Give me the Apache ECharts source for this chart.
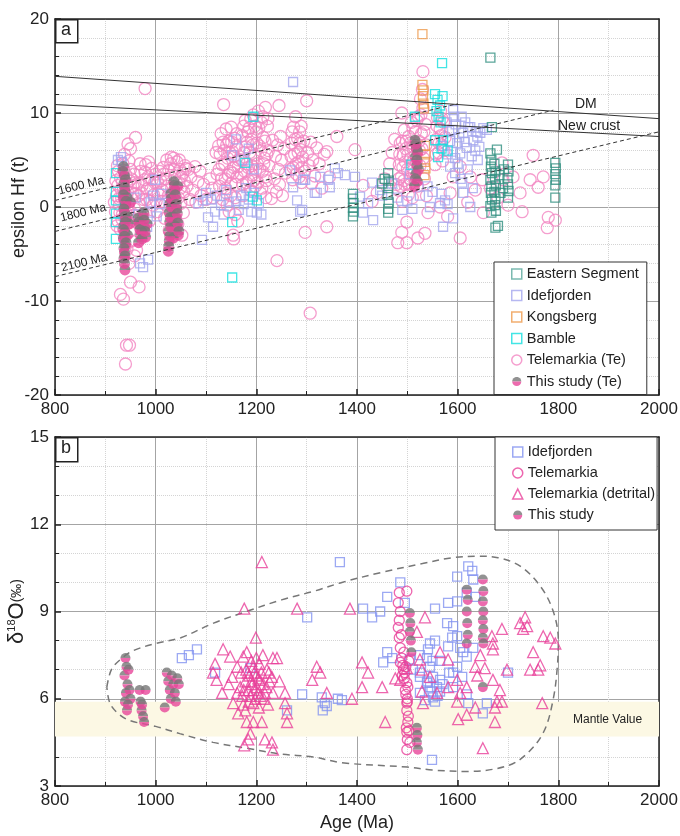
<!DOCTYPE html>
<html>
<head>
<meta charset="utf-8">
<script src="https://cdn.jsdelivr.net/npm/echarts@6/dist/echarts.min.js"></script>
<style>
  html, body { margin: 0; background: #fff; }
  #app { width: 680px; height: 836px; }
</style>
</head>
<body>
<div id="app"></div>
<script>
// ---------- panel a : epsilon Hf (t) vs age ----------
const hfTelemarkia = [
  [918,0.5],[920,-0.5],[922,1.2],[925,-1.5],[925,2.3],[928,0.2],[930,3.1],[930,-2.4],[932,1.0],[934,-0.8],
  [935,4.6],[936,2.0],[938,5.6],[938,-3.2],[940,0.6],[941,3.4],[942,-1.8],[944,1.6],[945,6.7],[946,-0.4],
  [948,2.8],[948,-2.6],[950,6.2],[950,4.0],[952,0.9],[953,-1.2],[955,2.2],[957,3.5],[958,-0.2],[960,7.4],[960,1.4],
  [921,2.8],[923,-2.0],[926,3.8],[927,0.9],[929,-0.6],[931,1.9],[933,-1.3],[934,2.7],[936,-2.3],[937,3.9],
  [939,1.2],[941,-0.6],[943,2.4],[945,0.2],[947,4.9],[949,-1.0],[951,3.0],[954,1.5],[956,-0.9],[959,2.6],
  [924,4.4],[943,-4.5],[947,-6.0],[952,-3.6],
  [930,-9.3],[936,-9.8],[950,-8.0],[967,-8.5],[942,-14.7],[948,-14.7],[940,-16.7],[958,-5.2],[962,-4.6],[979,12.6],
  [965,2.5],[968,0.3],[970,3.8],[972,1.5],[975,-0.8],[978,2.9],[980,4.5],[982,0.8],[985,3.2],[987,-1.5],
  [990,1.9],[992,4.1],[995,0.2],[998,2.6],[1000,3.5],[1003,-0.5],[1005,1.4],
  [966,1.2],[969,4.6],[973,2.3],[976,0.8],[979,3.7],[983,1.9],[986,4.8],[989,0.6],[993,2.9],[996,1.3],
  [1001,0.6],[1004,2.6],[1008,3.8],[1013,1.8],[1016,3.5],[1019,0.3],[1023,2.2],[1026,3.9],[1029,0.2],[1031,5.3],
  [1033,1.5],[1037,4.0],[1039,-1.5],[1041,2.6],[1045,1.0],[1047,5.0],[1049,2.0],[1051,3.2],[1055,-0.6],[1057,2.8],[1060,4.1],
  [1010,2.8],[1012,0.6],[1015,4.2],[1018,-1.2],[1020,3.0],[1022,5.0],[1025,1.2],[1027,-2.5],[1030,4.6],[1032,2.1],
  [1035,-0.6],[1036,5.2],[1038,3.3],[1040,0.9],[1042,4.8],[1044,-1.8],[1046,2.6],[1048,4.0],[1050,0.4],[1052,-3.0],
  [1054,3.6],[1056,1.6],[1058,4.4],[1062,2.2],[1065,4.0],[1068,0.8],[1070,3.2],[1074,1.8],[1078,4.3],[1080,0.5],
  [1084,2.7],[1088,3.8],[1090,1.2],[1095,2.4],[1100,0.8],[1108,3.0],[1112,2.0],[1115,1.0],[1120,5.8],[1122,3.5],
  [1125,6.5],[1127,2.2],[1130,7.8],[1132,4.5],[1133,0.8],[1135,10.9],[1136,6.0],[1138,3.0],[1140,8.3],[1140,1.5],
  [1143,5.2],[1145,7.0],[1146,-0.5],[1148,3.8],[1150,8.5],[1150,2.5],[1152,5.9],[1155,-3.4],[1155,4.2],[1157,7.3],
  [1158,1.0],[1160,6.4],[1162,3.2],[1163,-1.5],[1165,5.0],[1154,-3.0],
  [1126,4.0],[1128,5.6],[1131,3.0],[1134,6.9],[1137,4.6],[1139,2.0],[1141,6.6],[1144,3.4],[1147,5.8],[1149,1.2],
  [1151,6.9],[1153,3.6],[1156,5.4],[1159,2.4],[1161,7.8],[1164,4.3],[1142,0.2],[1158,-0.8],
  [1170,3.5],[1172,7.6],[1174,1.2],[1176,5.8],[1178,9.2],[1180,2.6],[1182,6.9],[1184,4.2],[1186,8.4],[1188,1.8],
  [1190,7.2],[1192,3.4],[1194,9.8],[1196,5.5],[1198,2.2],[1200,8.0],[1202,4.6],[1204,10.2],[1206,6.5],[1208,1.5],
  [1210,9.0],[1212,3.8],[1214,7.4],[1216,5.2],[1218,10.6],[1220,2.8],[1222,8.6],[1224,6.0],
  [1171,5.0],[1173,2.4],[1175,8.6],[1177,3.8],[1179,6.4],[1181,4.6],[1183,8.0],[1185,2.8],[1187,5.8],[1189,9.4],
  [1191,4.4],[1193,6.6],[1195,2.8],[1197,8.6],[1199,4.0],[1201,6.8],[1203,2.6],[1205,8.4],[1207,4.0],[1209,6.0],
  [1211,2.0],[1213,9.6],[1215,4.6],[1217,7.0],[1219,3.2],[1221,5.6],[1223,9.4],[1225,4.4],[1219,1.0],
  [1230,0.9],[1232,7.1],[1236,3.0],[1238,5.4],[1240,1.6],[1242,6.6],[1244,4.0],[1245,10.8],[1246,2.4],[1248,7.5],
  [1250,5.0],[1252,1.2],[1255,6.2],[1258,3.6],[1241,-5.7],
  [1268,4.0],[1270,6.8],[1272,2.9],[1274,8.5],[1276,5.6],[1278,9.6],[1280,3.5],[1282,7.3],[1284,4.8],[1286,8.0],
  [1288,6.1],[1290,2.6],[1292,5.3],[1294,7.0],[1296,3.8],[1300,11.3],[1297,-2.7],
  [1269,5.4],[1271,8.0],[1273,4.2],[1277,7.2],[1279,4.6],[1283,5.8],[1285,3.2],[1287,6.8],[1289,8.6],[1291,4.2],
  [1302,5.8],[1305,4.4],[1308,6.9],[1310,2.5],[1312,5.0],[1316,3.3],[1320,6.3],[1325,4.6],[1330,2.0],[1335,5.6],
  [1340,5.9],[1340,-2.1],[1307,-11.3],[1345,3.2],
  [1360,7.5],[1396,6.1],[1412,2.3],[1430,0.6],[1440,1.5],[1455,3.0],[1465,4.6],[1470,5.8],[1478,2.4],[1475,7.2],
  [1482,1.8],[1484,4.5],[1486,6.8],[1488,3.2],[1489,10.0],[1490,0.6],[1492,5.5],[1494,8.2],[1495,2.4],[1497,6.2],
  [1499,-1.6],[1499,-3.8],[1500,4.0],[1502,1.3],[1503,7.5],[1505,3.0],[1507,5.2],[1508,9.0],[1510,1.0],[1512,6.4],
  [1514,3.6],[1516,8.0],[1518,4.8],[1520,2.2],[1521,-3.3],[1522,9.6],[1524,6.0],[1526,11.5],[1528,7.8],[1530,12.5],
  [1531,14.4],[1532,5.2],[1534,3.0],[1535,-2.8],[1536,8.8],[1538,1.2],[1541,-0.6],[1489,-2.7],[1481,-3.8],
  [1483,3.0],[1485,5.6],[1487,2.2],[1490,7.0],[1491,4.2],[1493,2.8],[1496,4.8],[1498,7.0],[1501,5.6],[1504,2.4],
  [1506,6.8],[1509,4.2],[1511,8.4],[1513,5.0],[1515,2.8],[1517,6.8],[1519,9.2],[1523,7.0],[1525,4.4],[1527,9.8],
  [1529,6.2],[1531,10.5],[1533,8.0],[1537,6.6],
  [1555,4.5],[1558,7.2],[1560,9.5],[1562,5.8],[1565,8.3],[1566,10.2],[1568,6.6],[1570,4.9],[1572,9.0],[1575,7.4],
  [1557,5.6],[1559,8.6],[1563,6.8],[1567,7.6],[1569,9.4],[1573,6.0],
  [1585,1.5],[1591,3.2],[1605,4.3],[1605,-3.3],[1625,3.2],[1635,1.8],[1649,2.9],[1651,-0.6],[1688,4.7],[1690,2.9],
  [1710,3.2],[1724,1.5],[1728,-0.5],[1744,2.9],[1750,5.5],[1760,2.1],[1770,3.2],[1780,-1.1],[1778,-2.2],[1794,-1.4],
  [1620,0.5],[1665,2.0],[1680,1.0],[1700,0.2],[1565,0.0],[1580,-1.0]
];
const hfIdefjorden = [
  [931,5.3],[925,5.0],[933,4.8],[999,2.9],[995,1.2],[990,0.5],[989,-0.6],[983,-2.1],[975,-6.4],[985,-5.6],
  [969,-6.0],[1002,-1.0],[1008,0.3],[1012,1.4],[960,1.0],[965,-0.8],
  [1094,0.7],[1104,-1.1],[1114,-2.1],[1092,-3.5],[1085,0.4],[1100,1.5],[1110,0.8],[1118,-0.5],[1122,1.2],[1130,0.2],
  [1135,-0.8],[1140,1.8],[1145,0.5],[1160,0.6],[1165,-0.3],[1170,1.2],[1175,0.3],[1180,2.0],[1185,0.8],[1190,-0.5],
  [1195,1.5],[1201,-0.6],[1205,0.4],[1210,-0.8],[1152,5.5],[1160,7.2],[1175,5.0],[1185,6.2],[1195,4.0],
  [1267,3.9],[1273,2.1],[1281,0.7],[1291,-0.3],[1297,2.9],[1316,1.5],[1320,1.5],[1327,3.2],[1343,2.9],[1293,2.9],
  [1346,2.1],[1356,4.1],[1362,3.6],[1376,3.4],[1396,3.2],[1406,1.1],[1422,0.4],[1412,-0.6],[1432,-1.4],[1430,2.6],
  [1446,1.8],[1450,1.2],[1287,-0.5],[1273,13.3],
  [1470,2.5],[1480,1.0],[1490,-0.3],[1500,0.6],[1505,3.5],[1510,-0.2],[1525,1.2],[1540,2.2],[1545,0.0],[1550,1.6],
  [1591,10.3],[1593,9.6],[1589,8.2],[1611,7.9],[1625,8.5],[1631,7.1],[1645,7.9],[1651,8.4],[1599,6.8],[1605,5.7],
  [1595,5.2],[1585,4.3],[1595,3.6],[1609,2.6],[1611,1.5],[1575,0.7],[1580,0.3],[1565,0.4],[1568,1.4],[1591,-1.2],
  [1571,-2.1],[1658,8.2],[1618,6.3],[1635,6.0],[1621,8.5],[1639,7.5],[1615,9.0],[1600,4.6],[1620,4.0],[1640,5.0],
  [1580,5.6],[1585,7.0],[1578,9.0],[1570,6.5],[1630,2.0],[1625,0.0],
  [1596,8.8],[1603,7.4],[1608,9.6],[1614,6.9],[1628,5.4],[1636,8.0],[1643,6.4],[1590,5.9],[1583,8.1],[1606,3.0]
];
const hfEastern = [
  [1392,1.4],[1392,0.9],[1393,0.4],[1392,-0.1],[1393,-0.5],[1392,-1.0],
  [1462,3.6],[1463,2.8],[1462,2.0],[1461,1.3],[1463,0.5],[1462,-0.2],[1462,-0.6],[1455,3.0],[1450,2.5],
  [1665,15.9],[1668,8.5],[1678,6.1],[1665,5.7],[1667,5.0],[1666,4.3],[1668,3.6],[1665,2.9],[1667,2.2],[1666,1.5],
  [1668,0.8],[1665,0.1],[1667,-0.6],[1673,4.6],[1675,3.8],[1674,3.0],[1676,2.3],[1673,1.6],[1675,0.9],[1674,0.2],
  [1676,-0.4],[1675,-2.2],[1680,-2.0],[1683,3.4],[1685,1.5],[1700,4.5],[1701,3.8],[1699,3.1],[1700,2.4],[1701,1.7],
  [1700,1.0],[1692,4.0],[1690,2.0],
  [1794,4.7],[1795,4.1],[1794,3.5],[1795,2.9],[1794,2.3],[1794,1.0]
];
const hfKongsberg = [
  [1530,18.4],[1530,13.0],[1532,12.4],[1531,11.8],[1532,11.0],[1533,10.5],[1535,6.5],[1536,5.6],[1535,4.8],[1536,4.1],[1534,3.4]
];
const hfBamble = [
  [921,3.6],[921,1.6],[921,0.7],[921,-0.7],[921,-1.6],[921,-3.4],[1152,-7.5],[1152,-1.6],[1194,9.6],[1201,0.7],
  [1178,4.7],[1193,1.1],[1515,9.6],[1569,15.3],[1555,12.0],[1560,11.4],[1565,10.8],[1558,10.2],[1562,9.6],[1570,11.8],
  [1566,9.0],[1571,7.1],[1555,7.1],[1561,5.3],[1568,6.2],[1508,4.5],[1580,6.0]
];
const hfThisStudy = [
  [936,4.3],[938,3.3],[937,2.5],[939,1.7],[936,0.9],[940,0.2],[938,-0.6],[941,-1.3],[937,-2.0],[939,-2.7],
  [936,-3.4],[940,-4.1],[938,-4.8],[937,-5.5],[939,-6.7],[944,-1.0],[943,1.0],[944,-3.0],[948,-1.8],[950,0.5],
  [935,3.8],[940,2.9],[938,2.1],[936,1.3],[941,0.6],[937,-0.2],[939,-1.0],[940,-1.6],[936,-2.4],[938,-3.1],
  [941,-3.8],[937,-4.4],[939,-5.2],[938,-6.0],
  [965,-1.2],[968,-2.0],[970,-3.0],[966,-3.8],[975,-1.0],[978,-2.2],[980,-3.2],[976,-0.6],[983,-1.8],[972,-2.6],
  [967,-1.6],[969,-2.4],[973,-3.4],[977,-1.4],[979,-2.6],
  [1025,-4.7],[1027,-3.6],[1026,-2.6],[1028,-1.6],[1027,-0.6],[1029,0.4],[1030,1.4],[1036,2.7],[1038,1.8],[1040,0.8],
  [1042,-0.2],[1041,-1.2],[1043,-2.2],[1045,-3.0],[1035,-3.3],[1034,-1.0],[1044,2.2],[1032,0.0],[1038,-2.0],
  [1026,-4.2],[1028,-3.1],[1030,-2.1],[1029,-1.1],[1031,0.9],[1037,2.3],[1039,1.3],[1041,0.3],[1043,-0.7],[1044,-1.7],[1046,-2.6],
  [1515,7.1],[1518,6.2],[1516,5.3],[1519,4.4],[1517,3.5],[1520,2.7],[1514,2.2],[1521,5.8],[1522,4.0],
  [1517,6.7],[1519,5.0],[1516,3.0]
];
// reference lines (age, epsilon Hf)
const dmLine = [[800,13.9],[2000,9.4]];
const newCrustLine = [[800,10.9],[2000,7.5]];
const evo1600 = [[800,0.7],[1600,11.0]];
const evo1800 = [[800,-2.6],[1790,10.3]];
const evo2100 = [[800,-7.4],[2000,8.0]];

// ---------- panel b : d18O vs age ----------
const oIdefjorden = [
  [1052,7.4],[1066,7.5],[1082,7.7],[1118,6.9],[1188,7.05],[1301,8.8],[1291,6.15],[1261,5.6],[1366,10.7],
  [1330,6.05],[1336,5.85],[1332,5.6],[1340,5.75],[1362,6.0],[1370,5.95],
  [1412,9.1],[1430,8.8],[1446,9.0],[1460,9.5],[1486,10.0],[1495,9.3],[1555,9.1],[1581,9.3],[1599,9.35],[1599,10.2],
  [1621,10.55],[1629,10.4],[1631,10.1],[1618,9.65],[1635,9.5],[1579,8.6],[1591,8.5],[1589,8.1],[1599,8.15],
  [1545,7.9],[1555,8.0],[1541,7.7],[1460,7.6],[1452,7.25],[1505,7.35],[1525,7.5],[1539,7.4],[1550,7.3],[1565,7.3],
  [1581,7.8],[1605,7.75],[1611,7.6],[1631,7.75],[1618,7.45],[1591,6.9],[1599,7.1],[1583,6.9],[1545,7.1],[1551,6.75],
  [1525,6.75],[1539,6.55],[1545,6.4],[1559,6.4],[1565,6.65],[1551,6.05],[1525,6.2],[1535,5.95],[1555,5.9],[1565,6.25],
  [1548,6.25],[1525,6.9],[1511,7.0],[1470,7.4],[1591,6.4],[1618,6.15],[1621,5.85],[1658,5.85],[1650,5.5],[1700,6.9],
  [1549,3.9],[1609,6.75],[1560,6.1],[1570,6.5],[1540,6.6]
];
const oTelemarkia = [
  [1499,9.7],[1484,9.65],[1482,9.3],[1486,9.0],[1484,8.7],[1482,8.45],[1484,8.1],[1486,7.75],[1489,7.4],[1491,7.15],
  [1495,6.9],[1499,6.55],[1501,6.4],[1497,6.15],[1499,5.85],[1499,5.6],[1501,5.2],[1499,4.85],[1499,4.25],[1486,7.25],
  [1492,7.0],[1494,6.7],[1490,6.8],[1496,6.3],[1500,6.0],[1502,5.4],[1498,5.0],[1500,4.6],[1493,7.6],[1488,8.2],
  [1503,7.3],[1497,7.1],[1500,5.9],[1503,4.9],[1505,4.5]
];
const oTelemarkiaDetrital = [
  [1211,10.7],[1176,9.1],[1281,9.1],[1199,8.1],[1134,7.7],[1148,7.45],[1174,7.45],[1181,7.6],[1213,7.5],[1233,7.4],
  [1241,7.4],[1320,7.1],[1311,6.65],[1118,7.2],[1121,6.65],[1114,6.9],[1162,7.1],[1194,7.1],[1221,7.0],[1152,6.75],
  [1170,6.9],[1207,6.65],[1231,6.75],[1132,6.2],[1162,6.2],[1184,6.3],[1201,6.4],[1217,6.2],[1233,6.2],[1257,6.2],
  [1154,5.85],[1174,5.8],[1194,5.85],[1223,5.8],[1257,5.85],[1261,5.5],[1164,5.5],[1181,5.2],[1194,5.2],[1211,5.2],
  [1261,5.2],[1188,4.8],[1184,4.6],[1176,4.4],[1217,4.6],[1231,4.5],[1233,4.25],
  [1178,6.6],[1186,6.8],[1192,6.5],[1196,6.9],[1204,6.7],[1208,6.1],[1214,6.5],[1188,6.1],[1198,6.0],[1206,7.2],
  [1180,7.0],[1168,6.4],[1226,6.6],[1172,6.1],[1246,6.6],[1145,6.5],
  [1175,6.3],[1183,6.9],[1190,6.6],[1195,6.3],[1200,6.8],[1203,6.2],[1210,6.9],[1215,6.0],[1220,6.4],[1185,5.9],
  [1205,5.7],[1225,6.9],[1190,7.3],[1200,7.4],[1178,5.6],
  [1386,9.1],[1327,6.9],[1410,7.25],[1422,6.9],[1410,6.4],[1450,6.4],[1390,6.0],[1340,6.2],[1456,5.2],[1535,8.8],
  [1519,8.3],[1565,7.6],[1581,7.35],[1525,7.35],[1529,7.0],[1499,7.05],[1476,6.7],[1486,6.65],[1545,6.75],[1529,6.25],
  [1531,5.85],[1559,6.2],[1581,6.4],[1599,5.9],[1601,5.3],[1599,6.65],[1618,6.4],[1635,7.1],[1639,6.8],[1645,7.5],
  [1654,7.05],[1670,7.7],[1670,7.9],[1688,8.4],[1668,8.15],[1670,6.65],[1684,6.3],[1678,5.9],[1688,5.9],[1674,5.7],
  [1635,5.7],[1674,5.2],[1650,4.3],[1618,5.45],[1605,6.2],[1724,8.6],[1734,8.8],[1738,8.5],[1730,8.4],[1770,8.15],
  [1784,8.1],[1794,7.9],[1750,7.6],[1764,7.15],[1760,7.0],[1744,7.0],[1768,5.85],[1698,7.0]
];
const oThisStudy = [
  [940,7.4],[942,7.1],[938,6.8],[944,6.5],[941,6.2],[939,5.9],[943,5.6],[946,7.0],[948,6.3],[950,6.0],[945,5.8],
  [968,6.3],[970,5.9],[972,5.6],[975,5.4],[977,5.2],[980,6.3],[973,5.8],
  [1018,5.7],[1022,6.9],[1025,6.6],[1028,6.3],[1030,6.0],[1032,6.8],[1035,6.5],[1038,6.2],[1040,5.9],[1043,6.7],[1046,6.5],
  [1505,8.95],[1506,8.6],[1505,8.3],[1507,8.0],[1508,7.6],[1519,5.0],[1520,4.75],[1519,4.5],[1521,4.25],
  [1618,9.75],[1620,9.4],[1618,9.0],[1619,8.6],[1620,8.2],[1618,7.9],
  [1650,10.1],[1651,9.7],[1650,9.35],[1651,9.0],[1650,8.7],[1651,8.4],[1650,8.1],[1651,7.9],[1650,6.4]
];
const mantleBand = [4.7, 5.9];
const envelope = [
  [903,6.4],[912,7.0],[930,7.35],[955,7.65],[1000,7.9],[1050,8.1],[1115,8.6],[1180,9.0],[1250,9.4],[1315,9.7],
  [1370,10.0],[1450,10.35],[1530,10.65],[1590,10.85],[1640,10.9],[1680,10.85],[1725,10.55],[1765,9.85],[1790,9.0],
  [1800,8.0],[1798,7.1],[1790,6.0],[1772,4.9],[1740,4.15],[1700,3.7],[1618,3.5],[1550,3.55],[1500,3.65],[1370,3.8],
  [1313,4.0],[1247,4.1],[1181,4.3],[1114,4.5],[1048,4.8],[1000,5.05],[949,5.25],[925,5.5],[909,5.85],[903,6.4]
];

const font = 'Liberation Sans, Arial, sans-serif';
const halfSvg = "<svg xmlns='http://www.w3.org/2000/svg' width='24' height='24'>" +
  "<path d='M1 12A11 11 0 0 1 23 12Z' fill='#777777'/>" +
  "<path d='M1 12A11 11 0 0 0 23 12Z' fill='#e8479a'/></svg>";
const halfSymbol = 'image://data:image/svg+xml;charset=utf-8,' + encodeURIComponent(halfSvg);

function xAx(grid, bottom, withName) {
  return {
    type: 'value', gridIndex: grid, min: 800, max: 2000, interval: 200,
    position: bottom ? 'bottom' : 'top',
    name: withName ? 'Age (Ma)' : '',
    nameLocation: 'middle', nameGap: 28, nameMoveOverlap: false,
    nameTextStyle: { fontSize: 18, color: '#222', fontFamily: font },
    axisLine: { show: true, onZero: false, lineStyle: { color: '#222', width: 1.5 } },
    axisTick: { show: bottom, inside: true, length: 6, lineStyle: { color: '#222', width: 1.5 } },
    minorTick: { show: bottom, splitNumber: 2, length: 4, lineStyle: { color: '#222' } },
    axisLabel: { show: bottom, fontSize: 17, color: '#222', fontFamily: font, margin: 6, formatter: v => String(v) },
    splitLine: { show: bottom, lineStyle: { color: '#a4a4a4' } },
    minorSplitLine: { show: bottom, lineStyle: { color: '#d4d4d4', type: 'dotted' } }
  };
}
function yAx(grid, left, min, max, step, minorN, name) {
  return {
    type: 'value', gridIndex: grid, min: min, max: max, interval: step,
    position: left ? 'left' : 'right',
    name: name || '', nameLocation: 'middle', nameGap: 27, nameMoveOverlap: false,
    nameTextStyle: {
      fontSize: 18, color: '#222', fontFamily: font,
      rich: {
        d: { fontSize: 22, color: '#222', fontFamily: font },
        s: { fontSize: 11, color: '#222', fontFamily: font, verticalAlign: 'top', padding: [0, 0, 9, 0] },
        p: { fontSize: 14, color: '#222', fontFamily: font }
      }
    },
    axisLine: { show: true, onZero: false, lineStyle: { color: '#222', width: 1.5 } },
    axisTick: { show: left, inside: true, length: 6, lineStyle: { color: '#222', width: 1.5 } },
    minorTick: { show: left, splitNumber: minorN, length: 4, lineStyle: { color: '#222' } },
    axisLabel: { show: left, fontSize: 17, color: '#222', fontFamily: font, margin: 6, formatter: v => String(v) },
    splitLine: { show: left, lineStyle: { color: '#a4a4a4' } },
    minorSplitLine: { show: left, lineStyle: { color: '#d4d4d4', type: 'dotted' } }
  };
}
function scatter(name, data, symbol, size, color, xi, yi, z) {
  const filled = symbol === halfSymbol;
  return {
    name: name, type: 'scatter', xAxisIndex: xi, yAxisIndex: yi, data: data,
    symbol: symbol, symbolSize: size, z: z || 2, silent: true,
    itemStyle: filled ? { color: '#777' } :
      { color: 'rgba(0,0,0,0)', borderColor: color, borderWidth: 1.3 }
  };
}
function refLine(data, dashed) {
  return {
    type: 'line', xAxisIndex: 0, yAxisIndex: 0, data: data, symbol: 'none', silent: true, z: 5,
    lineStyle: { color: '#333', width: 1, type: dashed ? [4, 3] : 'solid' }
  };
}
function hollow(c) {
  return { color: 'rgba(0,0,0,0)', borderColor: c, borderWidth: 1.5 };
}

const C = {
  te: '#f386c2', ide: '#a4a6ee', east: '#2f8f80', kong: '#ee9a4c', bam: '#14dede',
  ide2: '#8393f0', tel2: '#e8409a'
};

const myChart = echarts.init(document.getElementById('app'));
const option = {
  animation: false,
  backgroundColor: '#fff',
  grid: [
    { left: 55, top: 19, width: 604, height: 376, outerBoundsMode: 'none' },
    { left: 55, top: 437, width: 604, height: 349, outerBoundsMode: 'none' }
  ],
  xAxis: [xAx(0, true, false), xAx(0, false, false), xAx(1, true, true), xAx(1, false, false)],
  yAxis: [
    yAx(0, true, -20, 20, 10, 5, 'epsilon Hf (t)'),
    yAx(0, false, -20, 20, 10, 5, ''),
    yAx(1, true, 3, 15, 3, 3, '{d|δ}{s|18}{d|O}{p|(‰)}'),
    yAx(1, false, 3, 15, 3, 3, '')
  ],
  legend: [
    {
      orient: 'vertical', left: 494, top: 262, width: 165,
      backgroundColor: '#fff', borderColor: '#333', borderWidth: 1,
      padding: [4, 8, 5, 17], itemGap: 5.5, itemWidth: 10, itemHeight: 10, itemTextGap: 17,
      textStyle: { fontSize: 14.5, color: '#222', fontFamily: font, lineHeight: 16 },
      data: [
        { name: 'Eastern Segment', icon: 'rect', itemStyle: hollow('#5aa89c') },
        { name: 'Idefjorden', icon: 'rect', itemStyle: hollow(C.ide) },
        { name: 'Kongsberg', icon: 'rect', itemStyle: hollow(C.kong) },
        { name: 'Bamble', icon: 'rect', itemStyle: hollow(C.bam) },
        { name: 'Telemarkia (Te)', icon: 'circle', itemStyle: hollow(C.te) },
        { name: 'This study (Te)', icon: halfSymbol }
      ]
    },
    {
      orient: 'vertical', left: 495, top: 437, width: 164,
      backgroundColor: '#fff', borderColor: '#333', borderWidth: 1,
      padding: [7, 2, 7, 17], itemGap: 5, itemWidth: 10, itemHeight: 10, itemTextGap: 10,
      textStyle: { fontSize: 14.5, color: '#222', fontFamily: font, lineHeight: 16 },
      data: [
        { name: 'Idefjorden', icon: 'rect', itemStyle: hollow(C.ide2) },
        { name: 'Telemarkia', icon: 'circle', itemStyle: hollow(C.tel2) },
        { name: 'Telemarkia (detrital)', icon: 'triangle', itemStyle: hollow(C.tel2) },
        { name: 'This study', icon: halfSymbol }
      ]
    }
  ],
  graphic: [
    { type: 'rect', left: 55, top: 19, shape: { width: 22, height: 23 }, style: { fill: '#fff', stroke: '#222', lineWidth: 1.5 }, z: 20 },
    { type: 'text', left: 61, top: 21, style: { text: 'a', fontSize: 18, fill: '#222', fontFamily: font }, z: 21 },
    { type: 'rect', left: 55, top: 437, shape: { width: 22, height: 24 }, style: { fill: '#fff', stroke: '#222', lineWidth: 1.5 }, z: 20 },
    { type: 'text', left: 61, top: 439, style: { text: 'b', fontSize: 18, fill: '#222', fontFamily: font }, z: 21 },
    { type: 'text', x: 575, y: 97, style: { text: 'DM', fontSize: 14, fill: '#222', fontFamily: font }, z: 21 },
    { type: 'text', x: 558, y: 119, style: { text: 'New crust', fontSize: 14, fill: '#222', fontFamily: font }, z: 21 },
    { type: 'text', x: 60, y: 197, rotation: 0.24, style: { text: '1600 Ma', fontSize: 12, fill: '#222', fontFamily: font, verticalAlign: 'bottom' }, z: 21 },
    { type: 'text', x: 62, y: 224, rotation: 0.24, style: { text: '1800 Ma', fontSize: 12, fill: '#222', fontFamily: font, verticalAlign: 'bottom' }, z: 21 },
    { type: 'text', x: 63, y: 274, rotation: 0.24, style: { text: '2100 Ma', fontSize: 12, fill: '#222', fontFamily: font, verticalAlign: 'bottom' }, z: 21 },
    { type: 'text', x: 573, y: 714, style: { text: 'Mantle Value', fontSize: 12, fill: '#222', fontFamily: font }, z: 21 }
  ],
  series: [
    scatter('Telemarkia (Te)', hfTelemarkia, 'circle', 12, C.te, 0, 0, 2),
    scatter('Idefjorden', hfIdefjorden, 'rect', 9, C.ide, 0, 0, 3),
    scatter('Eastern Segment', hfEastern, 'rect', 9, C.east, 0, 0, 3),
    scatter('Kongsberg', hfKongsberg, 'rect', 9, C.kong, 0, 0, 3),
    scatter('Bamble', hfBamble, 'rect', 9, C.bam, 0, 0, 3),
    scatter('This study (Te)', hfThisStudy, halfSymbol, 12, '#777', 0, 0, 4),
    refLine(dmLine, false),
    refLine(newCrustLine, false),
    refLine(evo1600, true),
    refLine(evo1800, true),
    refLine(evo2100, true),
    {
      type: 'line', xAxisIndex: 2, yAxisIndex: 2, data: envelope, symbol: 'none', smooth: 0.35, silent: true, z: 1,
      lineStyle: { color: '#777', width: 1.5, type: [7, 5] },
      markArea: {
        silent: true,
        itemStyle: { color: '#fcf8e4' },
        data: [[{ yAxis: mantleBand[0] }, { yAxis: mantleBand[1] }]]
      }
    },
    scatter('Idefjorden', oIdefjorden, 'rect', 9, C.ide2, 2, 2, 3),
    scatter('Telemarkia', oTelemarkia, 'circle', 10, C.tel2, 2, 2, 3),
    scatter('Telemarkia (detrital)', oTelemarkiaDetrital, 'triangle', 11, C.tel2, 2, 2, 3),
    scatter('This study', oThisStudy, halfSymbol, 11, '#777', 2, 2, 4)
  ]
};
myChart.setOption(option);
</script>
</body>
</html>
